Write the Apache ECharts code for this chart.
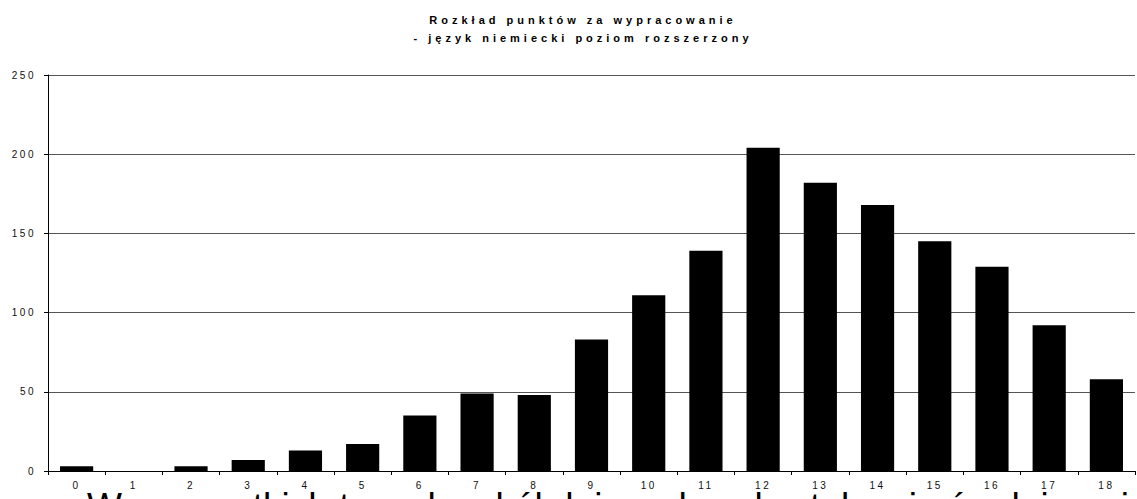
<!DOCTYPE html>
<html>
<head>
<meta charset="utf-8">
<script src="https://cdn.jsdelivr.net/npm/echarts@6/dist/echarts.min.js"></script>
<style>
html,body{margin:0;padding:0;background:#fff;}
#chart{width:1137px;height:499px;}
</style>
</head>
<body>
<div id="chart"></div>
<script>
const titleLines = ['Rozkład punktów za wypracowanie', '- język niemiecki poziom rozszerzony'];
const categories = ['0','1','2','3','4','5','6','7','8','9','10','11','12','13','14','15','16','17','18'];
const counts = [3, 0, 3, 7, 13, 17, 35, 49, 48, 83, 111, 139, 204, 182, 168, 145, 129, 92, 58];
const yTicks = { min: 0, max: 250, interval: 50 };
const footerText = 'We wszystkich typach szkół dających wykształcenie średnie najwięcej osób';

const chart = echarts.init(document.getElementById('chart'), null, { renderer: 'svg' });
chart.setOption({
  animation: false,
  backgroundColor: '#ffffff',
  title: {
    text: titleLines.join('\n'),
    left: 578,
    textAlign: 'center',
    top: 6,
    textStyle: { fontFamily: 'Liberation Sans, Arial', fontSize: 11, fontWeight: 'bold', color: '#000', lineHeight: 18 }
  },
  grid: { left: 48, right: 2, top: 75, bottom: 28, containLabel: false },
  xAxis: {
    type: 'category',
    data: categories,
    boundaryGap: true,
    axisLine: { show: true, lineStyle: { color: '#000', width: 1 } },
    axisTick: { show: true, interval: 0, length: 4, lineStyle: { color: '#000' } },
    axisLabel: { interval: 0, margin: 9, fontFamily: 'Liberation Sans, Arial', fontSize: 10, color: '#111' },
    splitLine: { show: false }
  },
  yAxis: {
    type: 'value',
    min: yTicks.min, max: yTicks.max, interval: yTicks.interval,
    axisLine: { show: true, lineStyle: { color: '#000', width: 1 } },
    axisTick: { show: true, length: 4, lineStyle: { color: '#000' } },
    axisLabel: { margin: 12, fontFamily: 'Liberation Sans, Arial', fontSize: 10, color: '#111' },
    splitLine: { show: true, lineStyle: { color: '#555', width: 1 } }
  },
  series: [{
    type: 'bar',
    data: counts,
    barCategoryGap: '42%',
    itemStyle: { color: '#000' }
  }],
  graphic: [{
    type: 'text',
    left: 87,
    top: 488,
    silent: true,
    style: { text: footerText, fontFamily: 'Liberation Sans, Arial', fontSize: 37, fill: '#000' }
  }]
});

function spaceLetters() {
  const texts = document.querySelectorAll('#chart svg text');
  texts.forEach(t => {
    const s = t.textContent || '';
    const fs = parseFloat(getComputedStyle(t).fontSize) || 10;
    if (fs >= 30) return;
    if (/[A-Za-ząęółśżźćń]/.test(s)) {
      t.style.letterSpacing = '4px';
    } else {
      const bb = t.getBBox();
      if (bb.x < 45) t.style.letterSpacing = '2.5px';
      else t.style.letterSpacing = '1px';
    }
  });
}
chart.on('finished', spaceLetters);
spaceLetters();
</script>
</body>
</html>
